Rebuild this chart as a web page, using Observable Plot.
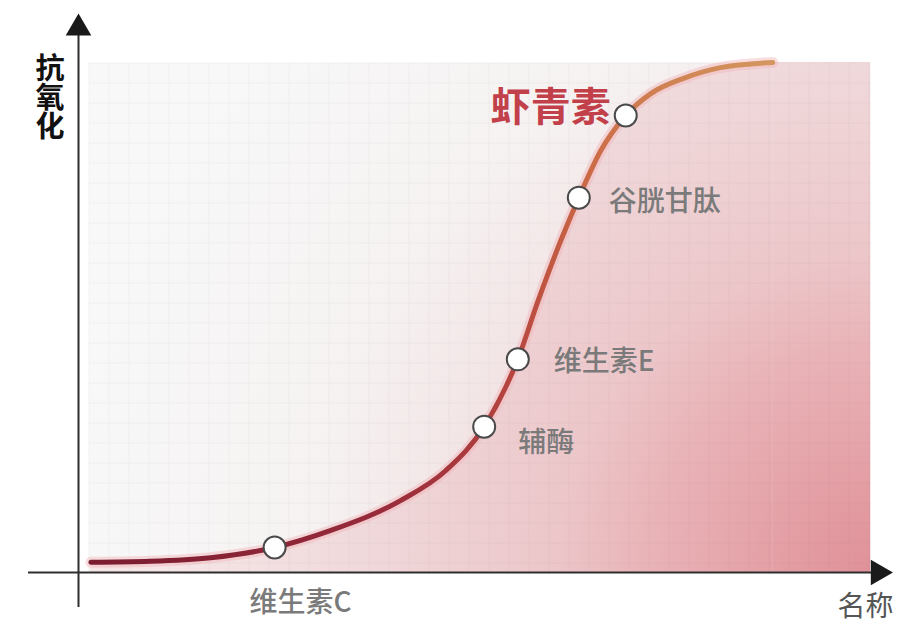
<!DOCTYPE html>
<html>
<head>
<meta charset="utf-8">
<script src="https://cdn.jsdelivr.net/npm/d3@7"></script>
<script src="https://cdn.jsdelivr.net/npm/@observablehq/plot@0.6"></script>
<style>
  html, body { margin: 0; padding: 0; background: #fff; overflow: hidden; }
  #chart svg { display: block; }
</style>
</head>
<body>
<svg width="0" height="0" style="position:absolute">
  <defs>
    <radialGradient id="bgGrad" gradientUnits="userSpaceOnUse" cx="880" cy="580" r="820">
      <stop offset="0" stop-color="#eccacd"/>
      <stop offset="0.5" stop-color="#f2e2e3"/>
      <stop offset="0.7" stop-color="#f6f2f2"/>
      <stop offset="1" stop-color="#f8f8f8"/>
    </radialGradient>
    <radialGradient id="areaGrad" gradientUnits="userSpaceOnUse" cx="880" cy="580" r="720">
      <stop offset="0" stop-color="#df8f96"/>
      <stop offset="0.33" stop-color="#e9b4b8"/>
      <stop offset="0.45" stop-color="#ecc6c9"/>
      <stop offset="0.72" stop-color="#f0d9db"/>
      <stop offset="1" stop-color="#f6e6e7"/>
    </radialGradient>
    <linearGradient id="lineGrad" gradientUnits="userSpaceOnUse" x1="90" y1="562" x2="772" y2="62">
      <stop offset="0" stop-color="#7a1c30"/>
      <stop offset="0.3" stop-color="#982b3b"/>
      <stop offset="0.55" stop-color="#b8473f"/>
      <stop offset="0.75" stop-color="#cb6b47"/>
      <stop offset="1" stop-color="#d4965e"/>
    </linearGradient>
    <pattern id="grid" patternUnits="userSpaceOnUse" x="88" y="62" width="20" height="20">
      <path d="M20 0 L0 0 0 20" fill="none" stroke="rgba(100,100,100,0.1)" stroke-width="1"/>
    </pattern>
  </defs>
</svg>
<div id="chart"></div>
<script>
// ---- data ----
const curveX = [0.3, 7.9, 15.6, 23.8, 30.9, 39.9, 45.7, 50.6, 54.9, 57.5, 60.4, 62.7, 65.5, 68.7, 71.9, 76.1, 80.8, 87.5];
const curveY = [2.0, 2.2, 2.9, 4.9, 8.2, 14.1, 20.0, 28.6, 41.8, 53.3, 65.1, 73.5, 82.7, 89.6, 93.9, 96.9, 99.0, 100];

const pointNames = ["维生素C", "辅酶", "维生素E", "谷胱甘肽", "虾青素"];
const pointX = [23.8, 50.6, 54.9, 62.7, 68.7];
const pointY = [4.9, 28.6, 41.8, 73.5, 89.6];

const yLabel = "抗氧化";
const xLabel = "名称";
const xDomain = [0, 100];
const yDomain = [0, 100];

// ---- derived tables ----
const curve = curveX.map((x, i) => ({x, y: curveY[i]}));
const points = pointNames.map((name, i) => ({name, x: pointX[i], y: pointY[i]}));
const tail = [{x1: curveX[curveX.length - 1], x2: xDomain[1], y1: yDomain[0], y2: yDomain[1]}];

// ---- label styling (not data) ----
const cjk = "'Noto Sans CJK SC', 'Noto Sans', sans-serif";
const gray = {fill: "#7a7a7a", fontSize: 28, fontWeight: 500, textAnchor: "start"};
const labelStyle = {
  "虾青素": {dx: -15, dy: -7, textAnchor: "end", fontSize: 40, fontWeight: "bold", fill: "#c2404a"},
  "谷胱甘肽": {...gray, dx: 30, dy: 4},
  "维生素E": {...gray, dx: 36, dy: 3},
  "辅酶": {...gray, dx: 34, dy: 16},
  "维生素C": {...gray, dx: 26, dy: 56, textAnchor: "middle"}
};

const labelMarks = points.map(p => Plot.text([p], {
  x: "x", y: "y", text: "name", fontFamily: cjk, ...labelStyle[p.name]
}));

const plot = Plot.plot({
  width: 920,
  height: 639,
  marginLeft: 88,
  marginRight: 50,
  marginTop: 62,
  marginBottom: 67,
  x: {domain: xDomain, axis: null},
  y: {domain: yDomain, axis: null},
  style: {background: "#ffffff", overflow: "visible", fontFamily: cjk},
  marks: [
    Plot.frame({fill: "url(#bgGrad)", stroke: null}),
    Plot.areaY(curve, {x: "x", y: "y", curve: "monotone-x", fill: "url(#areaGrad)"}),
    Plot.rect(tail, {x1: "x1", x2: "x2", y1: "y1", y2: "y2", fill: "url(#areaGrad)"}),
    Plot.frame({fill: "url(#grid)", stroke: null}),
    Plot.line(curve, {x: "x", y: "y", curve: "monotone-x", stroke: "#f2b3b8", strokeWidth: 11, strokeOpacity: 0.45}),
    Plot.line(curve, {x: "x", y: "y", curve: "monotone-x", stroke: "url(#lineGrad)", strokeWidth: 5, strokeLinecap: "round"}),
    // axes
    Plot.ruleY([yDomain[0]], {stroke: "#2e2e2e", strokeWidth: 2, insetLeft: -60, insetRight: -2}),
    Plot.ruleX([xDomain[0]], {stroke: "#2e2e2e", strokeWidth: 2, dx: -10, insetTop: -30, insetBottom: -35}),
    Plot.dot([0], {x: () => xDomain[0], y: () => yDomain[1], dx: -10, dy: -34.3, symbol: "triangle", r: 9.5, fill: "#1a1a1a", stroke: null}),
    Plot.dot([0], {x: () => xDomain[1], y: () => yDomain[0], dx: 7.7, symbol: "triangle", r: 9.5, rotate: 90, fill: "#1a1a1a", stroke: null}),
    // points
    Plot.dot(points, {x: "x", y: "y", r: 11, fill: "#ffffff", stroke: "#4a4a4a", strokeWidth: 2}),
    ...labelMarks,
    Plot.text([yLabel], {frameAnchor: "top-left", text: d => d, dx: -38.5, dy: -30, textAnchor: "start",
      fontSize: 29, fontWeight: "bold", fill: "#111", fontFamily: cjk}),
    Plot.text([xLabel], {frameAnchor: "bottom-right", text: d => d, dx: -5, dy: 43, textAnchor: "middle",
      fontSize: 28, fill: "#555", fontFamily: cjk})
  ]
});
// stack the y-axis title vertically as a single text run
d3.select(plot).selectAll("text")
  .filter(function() { return this.textContent === yLabel; })
  .attr("dy", null)
  .style("writing-mode", "vertical-rl")
  .style("text-orientation", "upright");
document.getElementById("chart").appendChild(plot);
</script>
</body>
</html>
